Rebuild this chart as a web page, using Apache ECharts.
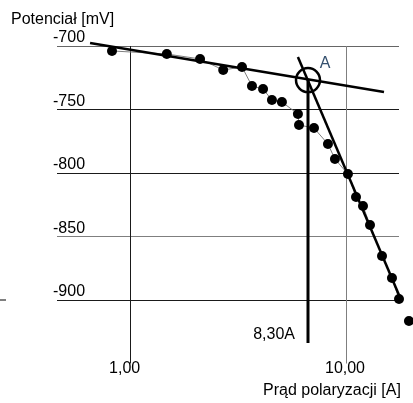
<!DOCTYPE html>
<html><head><meta charset="utf-8">
<script src="https://cdn.jsdelivr.net/npm/echarts@6/dist/echarts.min.js"></script>
<style>html,body{margin:0;padding:0;background:#fff}#c{width:413px;height:403px}</style>
</head><body><div id="c"></div>
<script>
// Measured points: polarization current [A] vs potential [mV]
const currents = [0.825, 1.48, 2.11, 2.70, 3.30, 3.67, 4.13, 4.54, 5.05, 5.99, 6.06, 7.11, 8.25, 8.89, 10.21, 11.13, 11.99, 12.92, 14.68, 16.33, 17.60, 19.57];
const potentials = [-703.9, -706.3, -710.2, -718.9, -716.5, -731.5, -733.9, -742.5, -744.1, -753.5, -762.2, -764.6, -777.2, -789.0, -800.8, -818.9, -826.0, -840.9, -865.4, -882.7, -899.2, -916.5];
// Tafel tangent lines (endpoints)
const tafelUpperX = [0.653, 15.0];
const tafelUpperY = [-697.6, -736.2];
const tafelLowerX = [5.99, 20.9];
const tafelLowerY = [-708.7, -926.0];
// Intersection point A and vertical marker
const pointAX = 6.67;
const pointAY = -726.8;
const markerBottomY = -933.9;
const markerLabel = '8,30A';
const pointLabel = 'A';
// Axis ticks / labels
const yMin = -950, yMax = -700, yStep = 50;
const xMin = 0.459, xMax = 17.6;
const xTickLabels = {1: '1,00', 10: '10,00'};
const yTitle = 'Potenciał [mV]';
const xTitle = 'Prąd polaryzacji [A]';

const FONT = '"Liberation Sans", Arial, sans-serif';
const chart = echarts.init(document.getElementById('c'));
chart.setOption({
  animation: false,
  backgroundColor: '#fff',
  grid: {left: 57, top: 46, right: 14, bottom: 39.5, containLabel: false},
  xAxis: {
    type: 'log', logBase: 10, min: xMin, max: xMax,
    axisLine: {show: false}, axisTick: {show: false},
    splitLine: {show: true, lineStyle: {color: ['rgba(0,0,0,0)', '#1a1a1a', '#7f7f7f', 'rgba(0,0,0,0)'], width: 1}},
    axisLabel: {
      margin: -3,
      formatter: function (v) {
        const l = Math.round(Math.log10(v));
        if (Math.abs(Math.log10(v) - l) < 1e-6 && xTickLabels[Math.pow(10, l)]) return '{a|' + xTickLabels[Math.pow(10, l)] + '}';
        return '';
      },
      rich: {a: {width: 42, align: 'left', fontSize: 16, fontFamily: FONT, color: '#000'}}
    }
  },
  yAxis: {
    type: 'value', min: yMin, max: yMax, interval: yStep,
    axisLine: {show: false}, axisTick: {show: false},
    splitLine: {show: true, lineStyle: {color: ['rgba(0,0,0,0)', '#1a1a1a', '#7f7f7f', '#1a1a1a', '#1a1a1a', '#666'], width: 1}},
    axisLabel: {
      align: 'left', margin: 4, verticalAlign: 'bottom',
      fontSize: 16, fontFamily: FONT, color: '#000',
      formatter: function (v) { return v === yMin ? '' : String(v); }
    }
  },
  series: [
    {
      type: 'line', clip: false, z: 3,
      data: currents.map((c, i) => [c, potentials[i]]),
      symbol: 'circle', symbolSize: 10, showAllSymbol: true,
      itemStyle: {color: '#000', opacity: 1},
      lineStyle: {color: '#808080', width: 1}
    },
    {
      type: 'line', clip: false, z: 4, symbol: 'none',
      data: tafelUpperX.map((x, i) => [x, tafelUpperY[i]]),
      lineStyle: {color: '#000', width: 2.5}
    },
    {
      type: 'line', clip: false, z: 4, symbol: 'none',
      data: tafelLowerX.map((x, i) => [x, tafelLowerY[i]]),
      lineStyle: {color: '#000', width: 2.5}
    },
    {
      type: 'line', clip: false, z: 4, symbol: 'circle', symbolSize: 0.01, showAllSymbol: true,
      itemStyle: {color: 'rgba(0,0,0,0)'},
      data: [[pointAX, pointAY], {value: [pointAX, markerBottomY], label: {show: true, formatter: markerLabel, position: 'left', distance: 13, offset: [0, -8], fontSize: 16, fontFamily: FONT, color: '#000'}}],
      lineStyle: {color: '#000', width: 3}
    },
    {
      type: 'scatter', clip: false, z: 5,
      data: [[pointAX, pointAY]],
      symbol: 'circle', symbolSize: 24,
      itemStyle: {color: 'rgba(0,0,0,0)', borderColor: '#000', borderWidth: 2.5, opacity: 1},
      label: {show: true, formatter: pointLabel, position: 'inside', offset: [17, -16], fontSize: 16, fontFamily: FONT, color: '#34506e'}
    }
  ],
  graphic: [
    {type: 'text', left: 11, top: 12, style: {text: yTitle, fontSize: 16, fontFamily: FONT, fill: '#000'}},
    {type: 'text', left: 263, top: 383, style: {text: xTitle, fontSize: 16, fontFamily: FONT, fill: '#000'}},
    {type: 'line', shape: {x1: 0, y1: 300, x2: 6, y2: 300}, style: {stroke: '#000', lineWidth: 1}}
  ]
});
</script></body></html>
